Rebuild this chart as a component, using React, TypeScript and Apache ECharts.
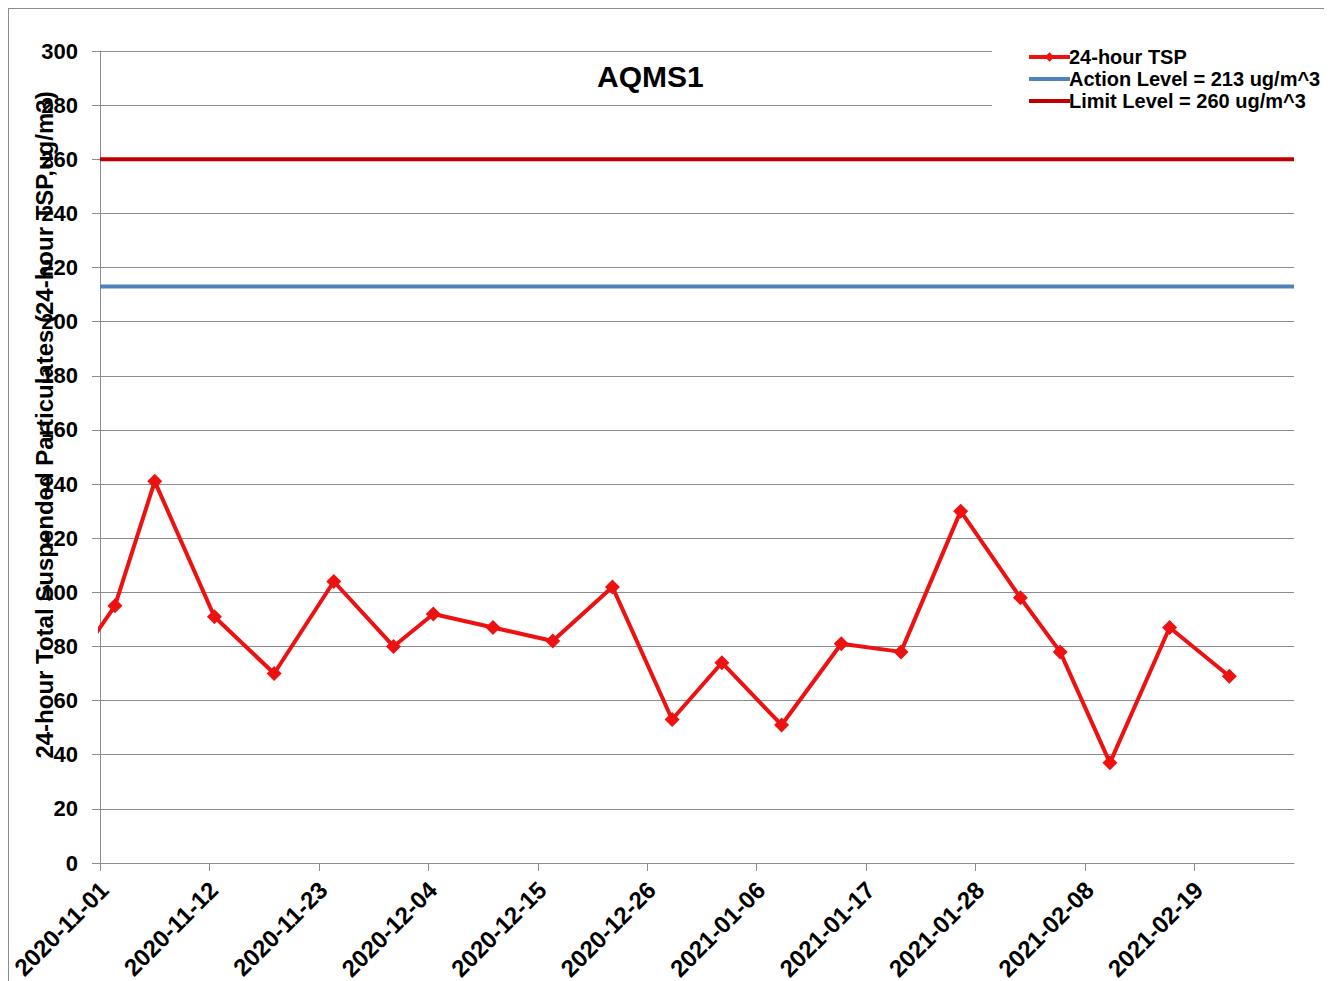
import React, { useEffect, useRef } from "react";
import * as echarts from "echarts";

const TITLE = "AQMS1";
const Y_NAME = "24-hour Total Suspended Particulates (24-hour TSP,ug/m3)";
const AXIS_START = "2020-11-01";
const AXIS_END = "2021-03-01";
const TICK_DATES = [
  "2020-11-01", "2020-11-12", "2020-11-23", "2020-12-04", "2020-12-15", "2020-12-26",
  "2021-01-06", "2021-01-17", "2021-01-28", "2021-02-08", "2021-02-19",
];
const SAMPLE_DATES = [
  "2020-10-27", "2020-11-02", "2020-11-06", "2020-11-12", "2020-11-18", "2020-11-24",
  "2020-11-30", "2020-12-04", "2020-12-10", "2020-12-16", "2020-12-22", "2020-12-28",
  "2021-01-02", "2021-01-08", "2021-01-14", "2021-01-20", "2021-01-26", "2021-02-01",
  "2021-02-05", "2021-02-10", "2021-02-16", "2021-02-22",
];
const TSP_VALUES = [63, 95, 141, 91, 70, 104, 80, 92, 87, 82, 102, 53, 74, 51, 81, 78, 130, 98, 78, 37, 87, 69];
const ACTION_LEVEL = 213;
const LIMIT_LEVEL = 260;
const SERIES_NAMES = ["24-hour TSP", "Action Level = 213 ug/m^3", "Limit Level = 260 ug/m^3"];

const DAY = 86400000;
function toUTC(s: string) {
  const [y, m, d] = s.split("-").map(Number);
  return Date.UTC(y, m - 1, d);
}
const BASE = toUTC(AXIS_START);
function dayOffset(s: string) {
  return (toUTC(s) - BASE) / DAY;
}
function fmt(v: number) {
  const d = new Date(BASE + Math.round(v) * DAY);
  const mm = String(d.getUTCMonth() + 1).padStart(2, "0");
  const dd = String(d.getUTCDate()).padStart(2, "0");
  return `${d.getUTCFullYear()}-${mm}-${dd}`;
}

const FONT = '"Liberation Sans", Arial, sans-serif';
const BAR_ICON = "path://M0,0 L41,0 L41,4 L0,4 Z";

export default function App() {
  const ref = useRef<HTMLDivElement>(null);
  useEffect(() => {
    if (!ref.current) return;
    const chart = echarts.init(ref.current, null, { renderer: "svg" });
    const xMax = dayOffset(AXIS_END);
    const ticks = TICK_DATES.map(dayOffset);
    // Excel date axis centres each day within its slot
    const tspData = SAMPLE_DATES.map((d, i) => [dayOffset(d) + 0.5, TSP_VALUES[i]]);
    chart.setOption({
      animation: false,
      textStyle: { fontFamily: FONT },
      title: {
        text: TITLE,
        left: 588,
        top: 52,
        padding: 0,
        textStyle: { fontSize: 30, fontWeight: "bold", color: "#000", fontFamily: FONT },
      },
      legend: {
        orient: "vertical",
        left: 983,
        top: 35,
        padding: [3, 12, 3, 35],
        backgroundColor: "#ffffff",
        itemGap: 2,
        itemWidth: 41,
        itemHeight: 12,
        lineStyle: { width: 4 },
        data: [
          { name: SERIES_NAMES[0] },
          { name: SERIES_NAMES[1], icon: BAR_ICON },
          { name: SERIES_NAMES[2], icon: BAR_ICON },
        ],
        textStyle: { fontSize: 20, fontWeight: "bold", color: "#000", fontFamily: FONT, padding: [0, 0, 0, -6] },
      },
      grid: { left: 91, top: 42, width: 1194, height: 812, containLabel: false, outerBoundsMode: "none" },
      xAxis: {
        type: "value",
        min: 0,
        max: xMax,
        splitLine: { show: false },
        axisLine: { show: true, lineStyle: { color: "#8c8c8c", width: 1 } },
        axisTick: { show: true, length: 8, lineStyle: { color: "#8c8c8c" }, customValues: ticks },
        axisLabel: {
          customValues: ticks,
          formatter: (v: number) => fmt(v),
          rotate: 45,
          margin: 10,
          align: "right",
          verticalAlign: "top",
          padding: [0, 6, 0, 0],
          fontSize: 24,
          fontWeight: "bold",
          color: "#000",
          fontFamily: FONT,
        },
      },
      yAxis: {
        type: "value",
        min: 0,
        max: 300,
        interval: 20,
        axisLine: { show: true, lineStyle: { color: "#8c8c8c", width: 1 } },
        axisTick: { show: true, length: 8, lineStyle: { color: "#8c8c8c" } },
        splitLine: { show: true, lineStyle: { color: "#8c8c8c", width: 1 } },
        axisLabel: { margin: 22, fontSize: 22, fontWeight: "bold", color: "#000", fontFamily: FONT },
      },
      graphic: [
        {
          type: "text",
          x: 35,
          y: 416,
          rotation: Math.PI / 2,
          z: 100,
          style: {
            text: Y_NAME,
            align: "center",
            verticalAlign: "middle",
            fontSize: 24,
            fontWeight: "bold",
            fill: "#000",
            fontFamily: FONT,
          },
        },
      ],
      series: [
        {
          name: SERIES_NAMES[0],
          type: "line",
          data: tspData,
          clip: true,
          symbol: "diamond",
          symbolSize: 15,
          lineStyle: { color: "#ee1111", width: 4 },
          itemStyle: { color: "#ee1111" },
          z: 3,
        },
        {
          name: SERIES_NAMES[1],
          type: "line",
          data: [[0, ACTION_LEVEL], [xMax, ACTION_LEVEL]],
          symbol: "none",
          lineStyle: { color: "#4f81bd", width: 4 },
          itemStyle: { color: "#4f81bd" },
          z: 2,
        },
        {
          name: SERIES_NAMES[2],
          type: "line",
          data: [[0, LIMIT_LEVEL], [xMax, LIMIT_LEVEL]],
          symbol: "none",
          lineStyle: { color: "#c00000", width: 4 },
          itemStyle: { color: "#c00000" },
          z: 2,
        },
      ],
    });
    return () => chart.dispose();
  }, []);
  return (
    <>
      <style>{`html,body{overflow:hidden}`}</style>
      <div
        style={{
          borderLeft: "1px solid #8c8c8c",
          borderTop: "1px solid #8c8c8c",
          width: 1330,
          height: 990,
          background: "#fff",
        }}
      >
        <div ref={ref} style={{ width: 1330, height: 990 }} />
      </div>
    </>
  );
}
